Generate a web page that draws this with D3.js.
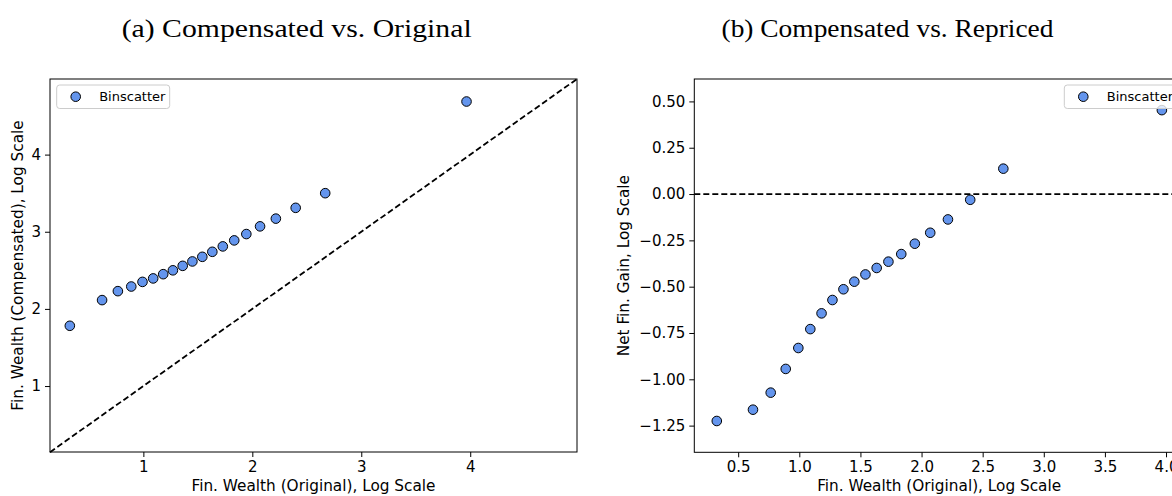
<html>
<head>
<meta charset="utf-8" />
<title>Binscatter</title>
<script src="https://d3js.org/d3.v7.min.js"></script>
<style>
  body { margin: 0; background: #fff; }
</style>
</head>
<body>
<svg width="1172" height="496" id="svg1"></svg>
<script>
// binscatter values
var wealthOrig = [0.325, 0.621, 0.766, 0.889, 0.992, 1.090, 1.182, 1.271, 1.361, 1.450,
                  1.541, 1.633, 1.729, 1.834, 1.945, 2.071, 2.216, 2.398, 2.669, 3.966];
var wealthComp = [1.781, 2.114, 2.230, 2.290, 2.350, 2.395, 2.450, 2.500, 2.558, 2.615,
                  2.675, 2.740, 2.810, 2.888, 2.970, 3.070, 3.170, 3.310, 3.500, 4.688];
var netGain    = [-1.225, -1.164, -1.072, -0.944, -0.831, -0.729, -0.644, -0.572, -0.514, -0.473,
                  -0.434, -0.399, -0.365, -0.324, -0.268, -0.209, -0.137, -0.031, 0.137, 0.453];

var ticksA_x = [1, 2, 3, 4];
var ticksA_y = [1, 2, 3, 4];
var ticksB_x = [0.5, 1.0, 1.5, 2.0, 2.5, 3.0, 3.5, 4.0];
var ticksB_y = [-1.25, -1.00, -0.75, -0.50, -0.25, 0.00, 0.25, 0.50];

var svg = d3.select("#svg1");
var sans = "DejaVu Sans, sans-serif";
var fmtMinus = function(s) { return s.replace("-", "\u2212"); };

function panel(o) {
  var g = svg.append("g");
  var x = d3.scaleLinear().domain(o.xdom).range([o.left, o.right]);
  var y = d3.scaleLinear().domain(o.ydom).range([o.bottom, o.top]);

  // reference line
  g.append("line")
    .attr("x1", x(o.ref[0][0])).attr("y1", y(o.ref[0][1]))
    .attr("x2", x(o.ref[1][0])).attr("y2", y(o.ref[1][1]))
    .attr("stroke", "#000").attr("stroke-width", 1.8)
    .attr("stroke-dasharray", "6,3");

  // points
  g.selectAll("circle.pt")
    .data(o.xs.map(function(d, i) { return [d, o.ys[i]]; }))
    .enter().append("circle")
    .attr("class", "pt")
    .attr("cx", function(d) { return x(d[0]); })
    .attr("cy", function(d) { return y(d[1]); })
    .attr("r", 4.8)
    .attr("fill", "#6495ED").attr("stroke", "#000").attr("stroke-width", 1);

  // axes
  g.append("g").attr("transform", "translate(0," + o.bottom + ")")
    .call(d3.axisBottom(x).tickValues(o.xt).tickFormat(o.xf).tickSize(5).tickPadding(4))
    .call(function(a) { a.select(".domain").remove(); });
  g.append("g").attr("transform", "translate(" + o.left + ",0)")
    .call(d3.axisLeft(y).tickValues(o.yt).tickFormat(o.yf).tickSize(5).tickPadding(4))
    .call(function(a) { a.select(".domain").remove(); });
  g.selectAll(".tick text").attr("font-size", 15).attr("fill", "#000")
    .style("font-family", sans);
  g.selectAll(".tick line").attr("stroke", "#000").attr("stroke-width", 1);

  // frame
  g.append("rect")
    .attr("x", o.left).attr("y", o.top)
    .attr("width", o.right - o.left).attr("height", o.bottom - o.top)
    .attr("fill", "none").attr("stroke", "#000").attr("stroke-width", 1);

  // axis labels
  g.append("text")
    .attr("x", (o.left + o.right) / 2).attr("y", 491)
    .attr("text-anchor", "middle").attr("font-size", 15.3)
    .style("font-family", sans)
    .text(o.xlabel);
  g.append("text")
    .attr("transform", "translate(" + o.ylabX + "," + (o.top + o.bottom) / 2 + ") rotate(-90)")
    .attr("text-anchor", "middle").attr("font-size", 15.3)
    .style("font-family", sans)
    .text(o.ylabel);

  // legend
  var lg = g.append("g").attr("transform", "translate(" + o.legX + ",85)");
  lg.append("rect").attr("width", 113).attr("height", 23.5).attr("rx", 3)
    .attr("fill", "#fff").attr("fill-opacity", 0.8)
    .attr("stroke", "#ccc").attr("stroke-width", 1);
  lg.append("circle").attr("cx", 19).attr("cy", 11.7).attr("r", 4.8)
    .attr("fill", "#6495ED").attr("stroke", "#000").attr("stroke-width", 1);
  lg.append("text").attr("x", 42.5).attr("y", 16).attr("font-size", 13)
    .style("font-family", sans)
    .text("Binscatter");

  // subfigure caption (serif, fitted to the reference width)
  var cap = svg.append("text")
    .attr("x", o.capX).attr("y", 37)
    .attr("text-anchor", "middle")
    .style("font-family", "Liberation Serif, serif").attr("font-size", 25)
    .text(o.caption);
  cap.attr("textLength", o.capW).attr("lengthAdjust", "spacingAndGlyphs");
}

// (a) compensated vs original, with 45-degree line
panel({
  left: 50, right: 577, top: 79, bottom: 452,
  xdom: [0.143, 4.98], ydom: [0.145, 4.98],
  xs: wealthOrig, ys: wealthComp,
  ref: [[0.143, 0.143], [4.98, 4.98]],
  xt: ticksA_x, yt: ticksA_y,
  xf: d3.format("d"), yf: d3.format("d"),
  xlabel: "Fin. Wealth (Original), Log Scale",
  ylabel: "Fin. Wealth (Compensated), Log Scale",
  ylabX: 23, legX: 56.7,
  capX: 296.7, capW: 350, caption: "(a) Compensated vs. Original"
});

// (b) net gain vs original, zero line
panel({
  left: 694.3, right: 1184, top: 79, bottom: 452.3,
  xdom: [0.141, 4.147], ydom: [-1.394, 0.621],
  xs: wealthOrig, ys: netGain,
  ref: [[0.141, 0], [4.147, 0]],
  xt: ticksB_x, yt: ticksB_y,
  xf: d3.format(".1f"), yf: function(d) { return fmtMinus(d3.format(".2f")(d)); },
  xlabel: "Fin. Wealth (Original), Log Scale",
  ylabel: "Net Fin. Gain, Log Scale",
  ylabX: 629, legX: 1064.3,
  capX: 887.5, capW: 332, caption: "(b) Compensated vs. Repriced"
});
</script>
</body>
</html>
